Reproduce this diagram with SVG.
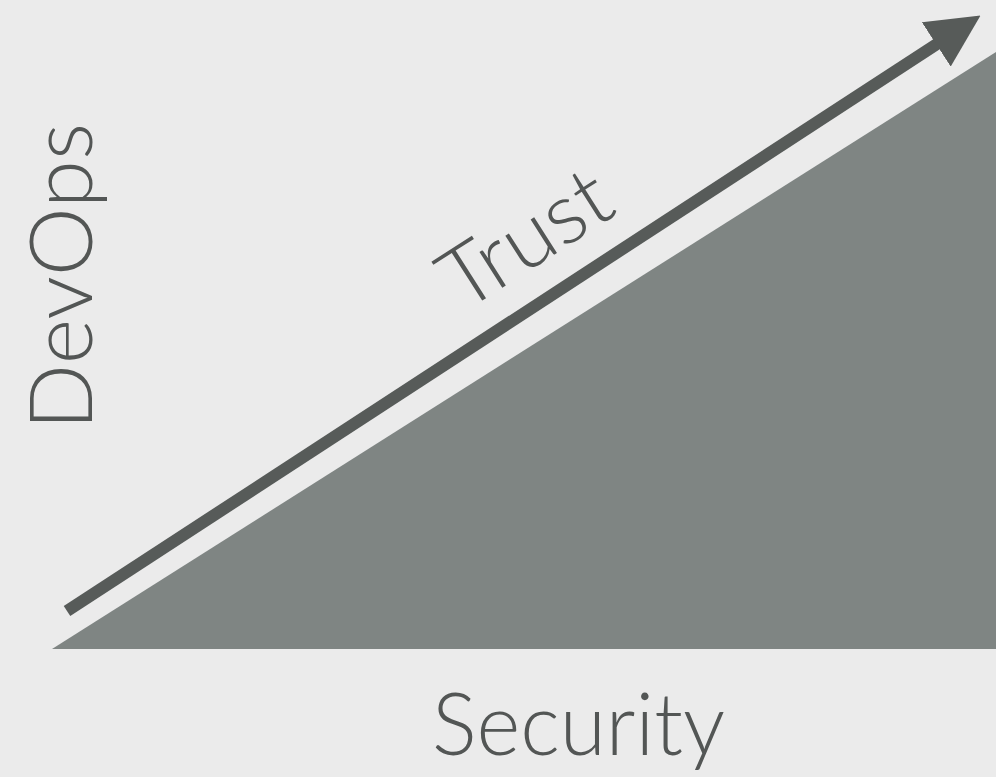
<svg xmlns="http://www.w3.org/2000/svg" width="996" height="777" viewBox="0 0 996 777">
  <style>
    .label { font-family: Lato, "Open Sans", "Liberation Sans", sans-serif; font-weight: 300; fill: #535655; }
  </style>
  <defs>
    <marker id="head" viewBox="0 0 10 10" refX="0.5" refY="5" markerWidth="4.4" markerHeight="4.4" markerUnits="strokeWidth" orient="auto">
      <path d="M0,0 L10,5 L0,10 Z" fill="#575b59"/>
    </marker>
  </defs>
  <rect width="996" height="777" fill="#ebebeb"/>
  <g id="ramp">
    <polygon points="52,649 996,52 996,649" fill="#7f8583"/>
  </g>
  <g id="connectors">
    <line x1="67" y1="611" x2="938.5" y2="43" stroke="#575b59" stroke-width="12" marker-end="url(#head)"/>
  </g>
  <g id="trust">
    <text class="label" font-size="85" text-anchor="middle" transform="translate(541,263) rotate(-32.6)" textLength="186" lengthAdjust="spacingAndGlyphs">Trust</text>
  </g>
  <g id="devops">
    <text class="label" font-size="86" transform="translate(92,430) rotate(-90)" textLength="307" lengthAdjust="spacingAndGlyphs">DevOps</text>
  </g>
  <g id="security">
    <text class="label" font-size="87" x="432" y="755" textLength="293" lengthAdjust="spacingAndGlyphs">Security</text>
  </g>
</svg>
